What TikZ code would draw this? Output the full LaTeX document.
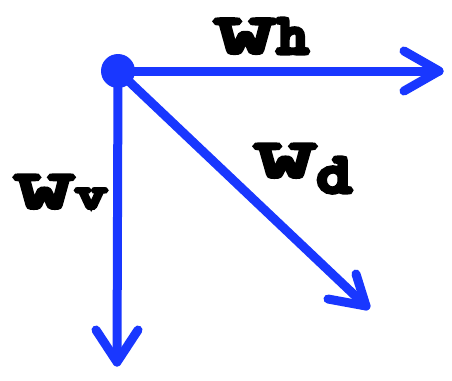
\documentclass[tikz,border=0pt]{standalone}
\usepackage{fontspec}
\usepackage{graphicx}
\newfontfamily\lblfont[FakeBold=4.5]{Latin Modern Mono}
\newfontfamily\subfont[FakeBold=9]{Latin Modern Mono}
\definecolor{vecblue}{RGB}{25,55,255}
\newcommand\lblletter[3]{\resizebox{#1}{#2}{\lblfont #3}}
\newcommand\subletter[3]{\resizebox{#1}{#2}{\subfont #3}}
\tikzset{
  vec/.style={draw=vecblue, line width=9pt, line cap=round, line join=round},
  lbl/.style={inner sep=0pt, anchor=base west}
}
\begin{document}
\begin{tikzpicture}[x=1pt,y=-1pt]
\useasboundingbox (0,0) rectangle (452,380);
\coordinate (o) at (118,71);
\coordinate (th) at (439,71);
\coordinate (tv) at (117,362);
\coordinate (td) at (366,306);
% horizontal
\draw[vec] (o) -- (th);
\draw[vec] (404,51) -- (th) -- (404,91);
% vertical
\draw[vec] (o) -- (tv);
\draw[vec] (96,330) -- (tv) -- (138,330);
% diagonal
\draw[vec] (o) -- (td);
\draw[vec] (356,274) -- (td) -- (328,299);
\fill[vecblue] (o) circle (17);
% labels
\node[lbl] (wh) at (213,53) {\lblletter{64pt}{34pt}{w}\subletter{31pt}{34pt}{h}};
\node[lbl] (wd) at (253,177) {\lblletter{64pt}{33pt}{w}\raisebox{-15pt}{\subletter{34pt}{34pt}{d}}};
\node[lbl] (wv) at (13,208) {\lblletter{62pt}{33pt}{w}\subletter{32pt}{19pt}{v}};
\end{tikzpicture}
\end{document}
